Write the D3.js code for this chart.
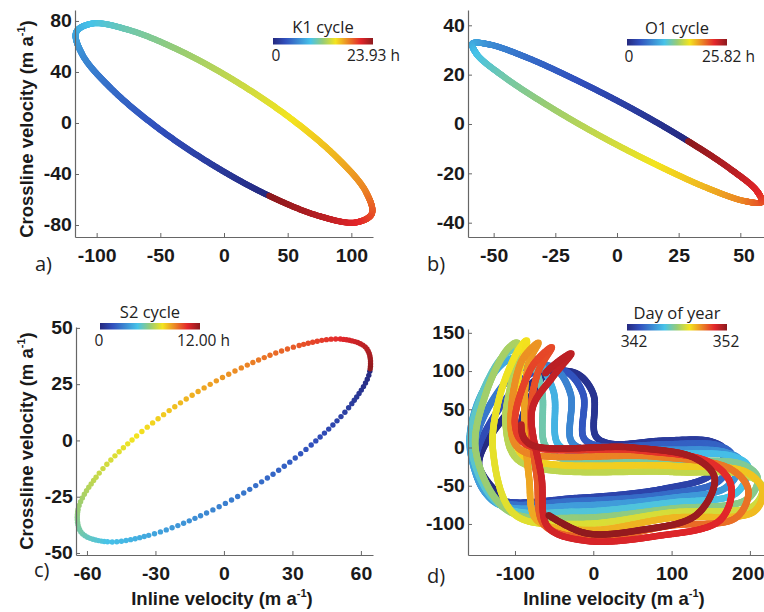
<!DOCTYPE html>
<html>
<head>
<meta charset="utf-8">
<script src="https://cdn.jsdelivr.net/npm/d3@7"></script>
<style>
  body { margin: 0; background: #fff; }
  svg { display: block; }
</style>
</head>
<body>
<svg id="chart" width="764" height="612"></svg>
<script>
// colormap (muted jet, as printed)
const jetStops = [0, 0.125, 0.375, 0.5, 0.625, 0.875, 1];
const jetColors = ["#25297f", "#3150bd", "#47c3e9", "#97cc76", "#f3e41f", "#e3272b", "#8c1a1e"];

// a) K1 ellipse, knots, with cycle fraction
const k1Inline = [35.0, -10.2, -53.8, -89.2, -111.1, -116.1, -103.3, -74.9, -35.0, 10.2, 53.8, 89.2, 111.1, 116.1, 103.3, 74.9];
const k1Cross = [-56.9, -32.1, -2.5, 27.6, 53.4, 71.1, 78.0, 73.0, 56.9, 32.1, 2.5, -27.6, -53.4, -71.1, -78.0, -73.0];
const k1Phase = [0, 0.0625, 0.125, 0.1875, 0.25, 0.3125, 0.375, 0.4375, 0.5, 0.5625, 0.625, 0.6875, 0.75, 0.8125, 0.875, 0.9375];

// b) O1 ellipse
const o1Inline = [28.6, 6.7, -16.3, -36.7, -51.6, -58.6, -56.7, -46.2, -28.6, -6.7, 16.3, 36.7, 51.6, 58.6, 56.7, 46.2];
const o1Cross = [-6.8, 5.9, 17.7, 27.0, 32.2, 32.6, 28.1, 19.4, 7.8, -4.9, -16.7, -26.0, -31.2, -31.6, -27.1, -18.4];
const o1Phase = [0, 0.0625, 0.125, 0.1875, 0.25, 0.3125, 0.375, 0.4375, 0.5, 0.5625, 0.625, 0.6875, 0.75, 0.8125, 0.875, 0.9375];

// c) S2 ellipse
const s2Inline = [63.9, 55.6, 38.8, 16.2, -9.0, -32.7, -51.5, -62.4, -63.9, -55.6, -38.8, -16.2, 9.0, 32.7, 51.5, 62.4];
const s2Cross = [30.7, 15.8, -1.5, -18.6, -32.9, -42.1, -45.0, -41.0, -30.7, -15.8, 1.5, 18.6, 32.9, 42.1, 45.0, 41.0];
const s2Phase = [0, 0.0625, 0.125, 0.1875, 0.25, 0.3125, 0.375, 0.4375, 0.5, 0.5625, 0.625, 0.6875, 0.75, 0.8125, 0.875, 0.9375];

// d) daily loops, day of year 342..352, [inline, crossline]
const days = [342, 352];
const dayLoops = [
  [[-118, -64], [-146, -22], [-110, 45], [-62, 96], [-22, 97], [0, 70], [3, 15], [22, 5], [90, 9], [150, 8], [168, -4], [150, -36], [90, -54], [-20, -66]],
  [[-125, -66], [-150, -20], [-122, 48], [-74, 100], [-36, 100], [-13, 70], [-12, 12], [8, 2], [90, 4], [158, 3], [177, -10], [160, -44], [100, -60], [-20, -70]],
  [[-128, -68], [-153, -16], [-134, 52], [-88, 106], [-50, 104], [-29, 70], [-28, 8], [-8, -3], [90, -3], [168, -6], [188, -18], [170, -52], [100, -66], [-20, -76]],
  [[-125, -72], [-157, -5], [-147, 60], [-110, 114], [-76, 116], [-51, 74], [-46, 6], [-25, -7], [90, -8], [180, -12], [198, -26], [182, -60], [100, -72], [-20, -84]],
  [[-118, -76], [-156, 0], [-143, 68], [-110, 124], [-88, 128], [-66, 76], [-62, 4], [-42, -14], [90, -18], [190, -22], [210, -40], [196, -68], [100, -80], [-20, -92]],
  [[-110, -82], [-150, -5], [-138, 68], [-110, 128], [-97, 137], [-104, 90], [-112, 30], [-94, -18], [100, -32], [195, -36], [216, -52], [205, -76], [100, -85], [-15, -100]],
  [[-100, -88], [-128, -5], [-120, 65], [-97, 125], [-85, 140], [-95, 95], [-101, 25], [-88, -12], [100, -24], [195, -32], [216, -56], [205, -84], [100, -92], [-5, -108]],
  [[-72, -95], [-82, -40], [-88, 55], [-82, 112], [-70, 137], [-92, 112], [-104, 15], [-88, -6], [80, -12], [175, -28], [198, -56], [182, -92], [100, -102], [0, -118]],
  [[-62, -102], [-72, -40], [-80, 45], [-70, 100], [-53, 131], [-78, 106], [-100, 30], [-86, 4], [60, -4], [150, -20], [176, -50], [162, -95], [80, -116], [-10, -122]],
  [[-58, -104], [-66, -40], [-78, 50], [-52, 92], [-28, 123], [-62, 96], [-92, 30], [-82, 5], [50, 0], [130, -14], [155, -40], [132, -88], [60, -108], [-10, -112], [-58, -88]]
];

// tick values
const aTicksX = [-100, -50, 0, 50, 100], aTicksY = [-80, -40, 0, 40, 80];
const bTicksX = [-50, -25, 0, 25, 50], bTicksY = [-40, -20, 0, 20, 40];
const cTicksX = [-60, -30, 0, 30, 60], cTicksY = [-50, -25, 0, 25, 50];
const dTicksX = [-100, 0, 100, 200], dTicksY = [-100, -50, 0, 50, 100, 150];

const jet = d3.scaleLinear().domain(jetStops).range(jetColors).clamp(true);
const svg = d3.select("#chart");

const defs = svg.append("defs");
const grad = defs.append("linearGradient").attr("id", "jet");
jetStops.forEach((s, i) => grad.append("stop").attr("offset", s).attr("stop-color", jetColors[i]));

// split a d3 curve into its segments (one per knot interval)
function curveSegments(pts, curve) {
  const segs = [];
  let cur;
  const ctx = {
    moveTo(x, y) { cur = [x, y]; },
    lineTo(x, y) { segs.push({ a: cur, d: `M${cur[0]},${cur[1]}L${x},${y}` }); cur = [x, y]; },
    bezierCurveTo(x1, y1, x2, y2, x, y) {
      segs.push({ a: cur, d: `M${cur[0]},${cur[1]}C${x1},${y1},${x2},${y2},${x},${y}` });
      cur = [x, y];
    },
    closePath() {}
  };
  d3.line().curve(curve).context(ctx)(pts);
  return segs;
}

function drawTrace(g, pts, times, curve, opts) {
  const segs = curveSegments(pts, curve);
  const tmp = g.append("path").attr("fill", "none");
  const node = tmp.node();
  const dots = [];
  segs.forEach(seg => {
    const i = pts.findIndex(p => Math.abs(p[0] - seg.a[0]) < 1e-6 && Math.abs(p[1] - seg.a[1]) < 1e-6);
    const t0 = times[i];
    const t1 = i + 1 < times.length ? times[i + 1] : opts.tmax;
    tmp.attr("d", seg.d);
    const L = node.getTotalLength();
    if (opts.dt) {
      for (let k = Math.ceil(t0 / opts.dt - 1e-9); k * opts.dt < t1 - 1e-9; k++) {
        const tau = k * opts.dt;
        const p = node.getPointAtLength(L * (tau - t0) / (t1 - t0));
        dots.push({ x: p.x, y: p.y, t: tau });
      }
    } else {
      const n = Math.max(1, Math.ceil(L / opts.step));
      for (let j = 0; j < n; j++) {
        const p = node.getPointAtLength(L * j / n);
        dots.push({ x: p.x, y: p.y, t: t0 + (t1 - t0) * j / n });
      }
    }
  });
  tmp.remove();
  dots.sort((a, b) => a.t - b.t);
  g.selectAll(null).data(dots).join("circle")
    .attr("cx", d => d.x).attr("cy", d => d.y).attr("r", opts.r)
    .attr("fill", d => jet(d.t / opts.tmax));
}

function drawAxes(p) {
  const fmt = d => String(d);   // plain hyphen minus, as in the figure
  const gx = svg.append("g").attr("transform", `translate(0,${p.box[3]})`)
    .call(d3.axisBottom(p.x).tickValues(p.xt).tickFormat(fmt).tickSize(-4).tickSizeOuter(0).tickPadding(12));
  const gy = svg.append("g").attr("transform", `translate(${p.box[0]},0)`)
    .call(d3.axisLeft(p.y).tickValues(p.yt).tickFormat(fmt).tickSize(-4).tickSizeOuter(0).tickPadding(3));
  [gx, gy].forEach(g => {
    g.attr("font-family", "'Liberation Sans', Arial, sans-serif").attr("font-size", 18).attr("font-weight", "bold");
    g.select(".domain").attr("stroke", "#666").attr("stroke-width", 1.2);
    g.selectAll(".tick line").attr("stroke", "#666");
    g.selectAll(".tick text").attr("fill", "#1a1a1a").attr("transform", "scale(1.08,1)");
  });
  // last label of the right-hand panels sits on the page edge
  if (p.box[1] >= 764) {
    gx.selectAll(".tick text").filter((d, i, n) => i === n.length - 1)
      .attr("text-anchor", "end").attr("x", 13);
  }
}

function legend(p) {
  const [x0, y0] = p.bar, w = 100, h = 6.5;
  const g = svg.append("g").attr("font-family", "'Open Sans', sans-serif").attr("fill", "#222");
  g.append("text").attr("x", x0 + w / 2).attr("y", y0 - 5).attr("text-anchor", "middle")
    .attr("font-size", 16.5).text(p.title);
  g.append("rect").attr("x", x0).attr("y", y0).attr("width", w).attr("height", h).attr("fill", "url(#jet)");
  g.append("text").attr("x", x0 + p.lo[1]).attr("y", y0 + h + 16).attr("text-anchor", "middle")
    .attr("font-size", 15.5).text(p.lo[0]);
  g.append("text").attr("x", x0 + w + p.hi[1]).attr("y", y0 + h + 16).attr("text-anchor", p.hi[2])
    .attr("font-size", 15.5).text(p.hi[0]);
}

function velocityLabel(g, name, size) {
  const t = g.append("text").attr("font-family", "'Liberation Sans', Arial, sans-serif")
    .attr("font-weight", "bold").attr("font-size", size).attr("fill", "#1a1a1a").attr("text-anchor", "middle");
  t.append("tspan").text(`${name} velocity (m a`);
  t.append("tspan").attr("font-size", size * 0.6).attr("dy", -size * 0.42).text("-1");
  t.append("tspan").attr("dy", size * 0.42).text(")");
  return t;
}

const panels = [
  { box: [75, 373, 10, 237], xd: [-117, 117], yd: [-89.4, 88.6], xt: aTicksX, yt: aTicksY,
    knots: k1Inline.map((v, i) => [v, k1Cross[i]]), times: k1Phase, dt: 1 / 1200, r: 3,
    tag: "a)", tagPos: [35, 271], yLabel: 129,
    leg: { bar: [273, 38], title: "K1 cycle", lo: ["0", 3], hi: ["23.93 h", 27, "end"] } },
  { box: [468, 764, 10, 237], xd: [-60.4, 59.6], yd: [-45.8, 46.2], xt: bTicksX, yt: bTicksY,
    knots: o1Inline.map((v, i) => [v, o1Cross[i]]), times: o1Phase, dt: 1 / 1200, r: 3,
    tag: "b)", tagPos: [427, 271],
    leg: { bar: [627, 39], title: "O1 cycle", lo: ["0", 2], hi: ["25.82 h", 28, "end"] } },
  { box: [76, 373, 327, 555], xd: [-64.8, 65.3], yd: [-50.9, 50.4], xt: cTicksX, yt: cTicksY,
    knots: s2Inline.map((v, i) => [v, s2Cross[i]]), times: s2Phase, dt: 1 / 150, r: 2.7,
    tag: "c)", tagPos: [34, 577], yLabel: 441, xLabel: 222,
    leg: { bar: [100, 323], title: "S2 cycle", lo: ["0", -1], hi: ["12.00 h", 30, "end"] } },
  { box: [468, 764, 329, 555], xd: [-160, 218], yd: [-140.6, 155], xt: dTicksX, yt: dTicksY,
    tag: "d)", tagPos: [427, 583], xLabel: 614,
    leg: { bar: [627, 324], title: "Day of year", lo: [String(days[0]), 7], hi: [String(days[1]), -1, "middle"] } }
];

panels.forEach(p => {
  p.x = d3.scaleLinear().domain(p.xd).range([p.box[0], p.box[1]]);
  p.y = d3.scaleLinear().domain(p.yd).range([p.box[3], p.box[2]]);
  const g = svg.append("g");
  if (p.knots) {
    const pts = p.knots.map(k => [p.x(k[0]), p.y(k[1])]);
    drawTrace(g, pts, p.times, d3.curveCatmullRomClosed.alpha(0.5), { dt: p.dt, r: p.r, tmax: 1 });
  } else {
    const pts = [], times = [];
    dayLoops.forEach((loop, di) => {
      const last = di === dayLoops.length - 1;
      loop.forEach((k, j) => {
        pts.push([p.x(k[0]), p.y(k[1])]);
        times.push(di + j / (last ? loop.length - 1 : loop.length));
      });
    });
    drawTrace(g, pts, times, d3.curveCatmullRom.alpha(0.5), { step: 1.1, r: 3.3, tmax: dayLoops.length });
  }
  drawAxes(p);
  legend(p.leg);
  svg.append("text").attr("x", p.tagPos[0]).attr("y", p.tagPos[1])
    .attr("font-family", "'Open Sans', sans-serif").attr("font-size", 20).attr("fill", "#222").text(p.tag);
  if (p.yLabel) {
    velocityLabel(svg, "Crossline", 18.5).attr("transform", `translate(33,${p.yLabel}) rotate(-90)`);
  }
  if (p.xLabel) {
    velocityLabel(svg, "Inline", 18.5).attr("transform", `translate(${p.xLabel},605)`);
  }
});
</script>
</body>
</html>
